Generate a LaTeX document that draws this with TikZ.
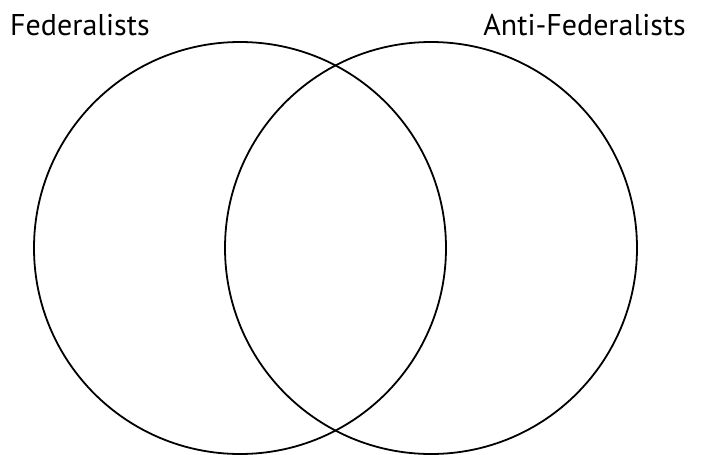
\documentclass[tikz,border=0pt]{standalone}
\usepackage{fontspec}
\setmainfont{PT Sans}
\begin{document}
\begin{tikzpicture}[x=1pt,y=-1pt,
  venn/.style={draw=black,line width=1.8pt},
  lbl/.style={inner sep=0pt,font=\fontsize{30}{30}\selectfont}]
\useasboundingbox (0,0) rectangle (704,455);
\node[venn,circle,minimum size=412pt,inner sep=0pt] (fed) at (240,248) {};
\node[venn,circle,minimum size=412pt,inner sep=0pt] (anti) at (431,248) {};
\node[lbl,anchor=base west] (tfed) at (10,35) {Federalists};
\node[lbl,anchor=base east] (tanti) at (686,35) {Anti-Federalists};
\end{tikzpicture}
\end{document}
